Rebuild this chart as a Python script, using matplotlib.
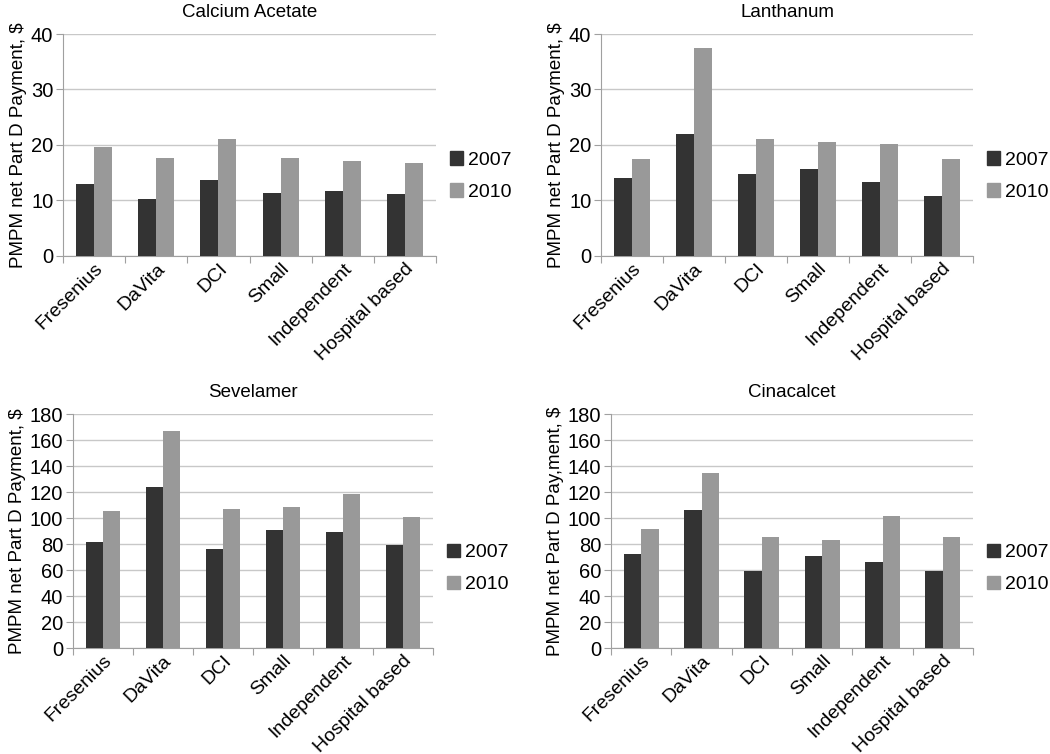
import matplotlib
matplotlib.use("Agg")
import matplotlib.pyplot as plt
import matplotlib.transforms as mtransforms
from matplotlib.patches import Patch
import numpy as np

plt.rcParams['font.family'] = ['Liberation Sans', 'DejaVu Sans']

categories = ["Fresenius", "DaVita", "DCI", "Small", "Independent", "Hospital based"]
years = ["2007", "2010"]

calcium_2007 = [13.0, 10.3, 13.7, 11.3, 11.8, 11.1]
calcium_2010 = [19.7, 17.7, 21.1, 17.7, 17.2, 16.8]
lanthanum_2007 = [14.0, 21.9, 14.7, 15.6, 13.4, 10.8]
lanthanum_2010 = [17.5, 37.5, 21.0, 20.5, 20.1, 17.5]
sevelamer_2007 = [81.2, 123.9, 76.5, 90.6, 89.6, 79.4]
sevelamer_2010 = [105.7, 166.7, 107.0, 108.3, 118.5, 100.4]
cinacalcet_2007 = [72.2, 106.5, 59.1, 70.9, 66.1, 58.9]
cinacalcet_2010 = [91.7, 134.9, 85.5, 82.7, 101.6, 85.5]

panels = [
    ("Calcium Acetate", calcium_2007, calcium_2010, 40, 10, "PMPM net Part D Payment, $"),
    ("Lanthanum", lanthanum_2007, lanthanum_2010, 40, 10, "PMPM net Part D Payment, $"),
    ("Sevelamer", sevelamer_2007, sevelamer_2010, 180, 20, "PMPM net Part D Payment, $"),
    ("Cinacalcet", cinacalcet_2007, cinacalcet_2010, 180, 20, "PMPM net Part D Pay,ment, $"),
]

W, H = 1050, 754
# pixel boxes: left, top, right, bottom
boxes = [(63, 34, 436, 256), (601, 34, 973, 256), (73, 414, 433, 648), (611, 414, 973, 648)]
legend_y = [0.36, 0.36, 0.34, 0.34]

dark = "#333333"
light = "#999999"
grid_c = "#c8c8c8"
axis_c = "#a0a0a0"

fig = plt.figure(figsize=(W / 100, H / 100), dpi=100)
shift = mtransforms.ScaledTranslation(6 / 100, 0, fig.dpi_scale_trans)

for i, ((title, v07, v10, ymax, step, ylab), (l, t, r, b)) in enumerate(zip(panels, boxes)):
    ax = fig.add_axes([l / W, 1 - b / H, (r - l) / W, (b - t) / H])
    x = np.arange(len(categories))
    bw = 0.29
    ax.bar(x - bw / 2, v07, bw, color=dark, zorder=3, label=years[0])
    ax.bar(x + bw / 2, v10, bw, color=light, zorder=3, label=years[1])
    ax.set_xlim(-0.5, len(categories) - 0.5)
    ax.set_ylim(0, ymax)
    ax.set_yticks(np.arange(0, ymax + 1, step))
    ax.yaxis.grid(True, color=grid_c, linewidth=1, zorder=0)
    ax.set_axisbelow(True)
    for s in ["top", "right"]:
        ax.spines[s].set_visible(False)
    ax.spines["left"].set_color(axis_c)
    ax.spines["bottom"].set_color(axis_c)
    ax.tick_params(axis="y", length=5, color=axis_c, labelsize=14.5, pad=2)
    ax.set_xticks(np.arange(-0.5, len(categories)), minor=False)
    ax.set_xticklabels([])
    ax.tick_params(axis="x", length=5, color=axis_c)
    ax.set_xticks(x, minor=True)
    labels = ax.set_xticklabels(categories, minor=True, rotation=45, ha="right", va="top",
                                rotation_mode="anchor", fontsize=14)
    for lab in labels:
        lab.set_transform(lab.get_transform() + shift)
    ax.tick_params(axis="x", which="minor", length=0, pad=3)
    ax.set_title(title, fontsize=13.5, pad=12)
    ax.set_ylabel(ylab, fontsize=13.5, labelpad=3)
    handles = [Patch(color=dark, label=years[0]), Patch(color=light, label=years[1])]
    ax.legend(handles=handles, loc="center left", bbox_to_anchor=(1.0, legend_y[i]),
              frameon=False, fontsize=14, handlelength=0.7, handleheight=0.7,
              handletextpad=0.25, labelspacing=0.75, borderaxespad=0.3)

fig.savefig("out.png", dpi=100)
